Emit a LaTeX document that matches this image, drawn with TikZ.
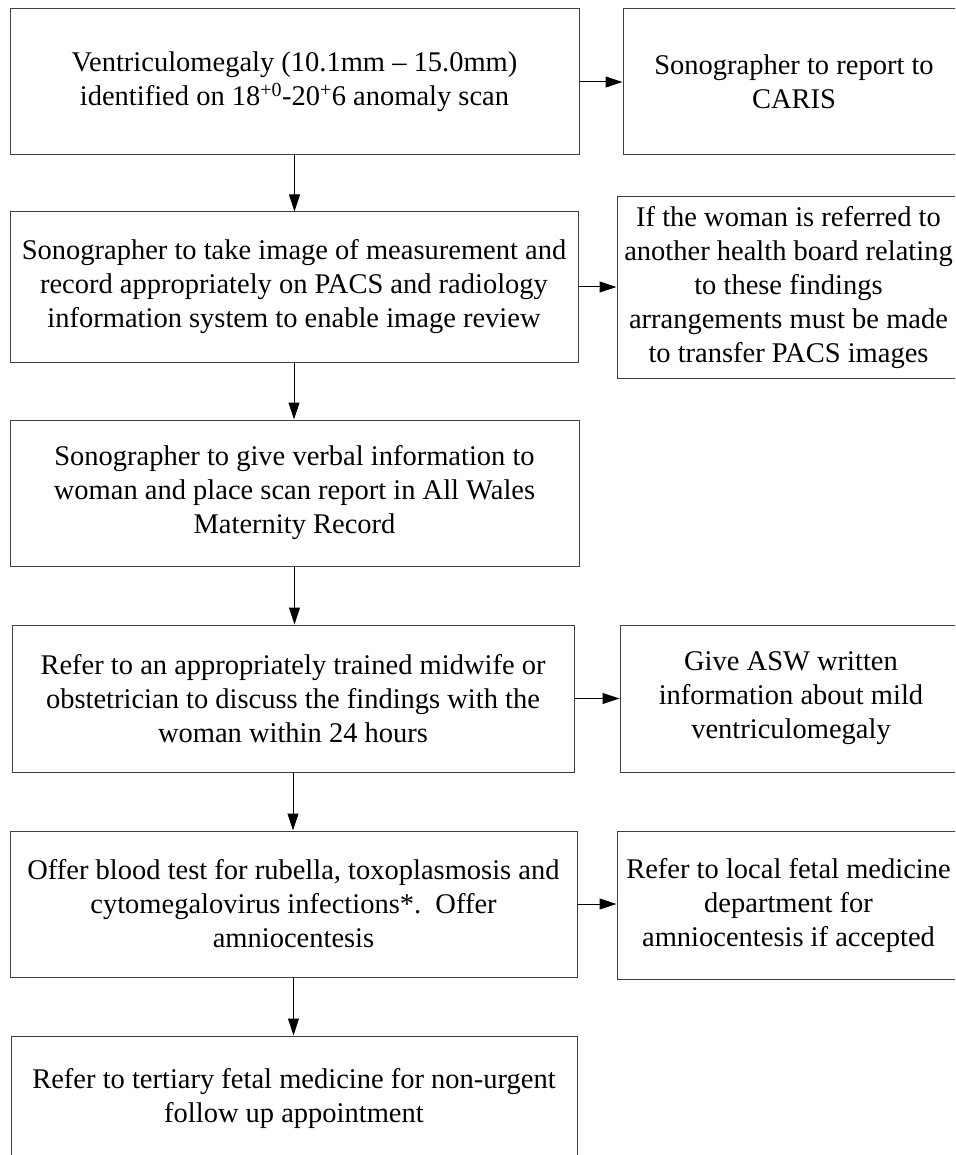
\documentclass[tikz,border=0pt]{standalone}
\usepackage{fontspec}
\setmainfont{Liberation Serif}
\usetikzlibrary{arrows.meta,calc}
\begin{document}
\begin{tikzpicture}[x=1pt,y=-1pt,
  box/.style={draw=black!75,line width=1pt,align=center,inner sep=0pt,
    font={\fontsize{28.5}{34}\selectfont},text=black},
  arr/.style={draw=black,line width=1pt,-{Triangle[length=17pt,width=11pt]}}]
\useasboundingbox (0,0) rectangle (955,1155);
\clip (0,0) rectangle (955,1155);
% left column
\node[box,minimum width=569pt,minimum height=146pt] (b1) at (294.5,82)
  {Ventriculomegaly (10.1mm -- 15.0mm)\\identified on 18\textsuperscript{+0}-20\textsuperscript{+}6 anomaly scan};
\node[box,minimum width=568pt,minimum height=150pt] (b2) at (294,287)
  {Sonographer to take image of measurement and\\record appropriately on PACS and radiology\\information system to enable image review};
\node[box,minimum width=569pt,minimum height=146pt] (b3) at (294.5,493)
  {Sonographer to give verbal information to\\woman and place scan report in All Wales\\Maternity Record};
\node[box,minimum width=562pt,minimum height=147pt] (b4) at (293,698.5)
  {Refer to an appropriately trained midwife or\\obstetrician to discuss the findings with the\\woman within 24 hours};
\node[box,minimum width=567pt,minimum height=146pt] (b5) at (293.5,904)
  {Offer blood test for rubella, toxoplasmosis and\\cytomegalovirus infections*.\ \ Offer\\amniocentesis};
\node[box,minimum width=566pt,minimum height=125pt] (b6) at (294,1098.5)
  {Refer to tertiary fetal medicine for non-urgent\\follow up appointment};
% right column
\node[box,minimum width=342pt,minimum height=146pt] (caris) at (794,82)
  {Sonographer to report to\\CARIS};
\node[box,minimum width=343pt,minimum height=181pt] (ifw) at (788.5,287.5)
  {If the woman is referred to\\another health board relating\\to these findings\\arrangements must be made\\to transfer PACS images};
\node[box,minimum width=342pt,minimum height=147pt] (asw) at (791,698.5)
  {Give ASW written\\information about mild\\ventriculomegaly};
\node[box,minimum width=343pt,minimum height=148pt] (local) at (788.5,905)
  {Refer to local fetal medicine\\department for\\amniocentesis if accepted};
% vertical connectors
\draw[arr] (b1.south) -- (b1.south |- b2.north);
\draw[arr] (b2.south) -- (b2.south |- b3.north);
\draw[arr] (b3.south) -- (b3.south |- b4.north);
\draw[arr] (b4.south) -- (b4.south |- b5.north);
\draw[arr] (b5.south) -- (b5.south |- b6.north);
% horizontal connectors
\draw[arr] (b1.east) -- (b1.east -| caris.west);
\draw[arr] (b2.east) -- (b2.east -| ifw.west);
\draw[arr] (b4.east) -- (b4.east -| asw.west);
\draw[arr] (b5.east) -- (b5.east -| local.west);
\end{tikzpicture}
\end{document}
